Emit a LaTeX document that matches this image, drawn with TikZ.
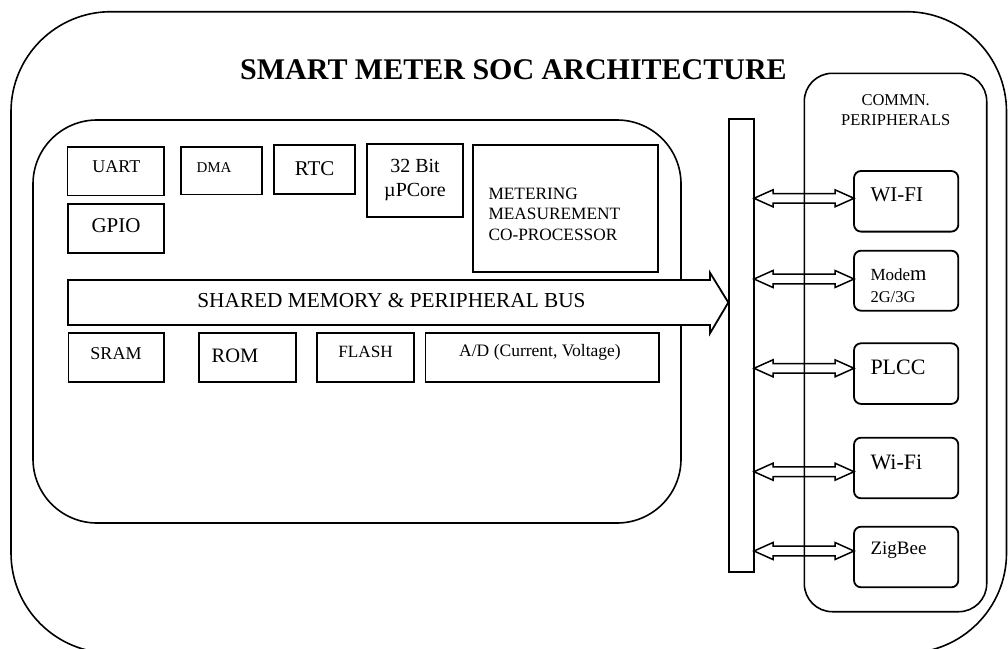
\documentclass[tikz,border=0pt]{standalone}
\usepackage{fontspec}
\setmainfont{Liberation Serif}
\usetikzlibrary{calc}
\newcommand\fsz[1]{\fontsize{#1}{#1}\selectfont}
\newcommand\bidir[2]{%
  \draw[link] let \p1=(#1), \p2=(#2) in
   (\x1,\y1) -- (\x1+19pt,\y1+8.5pt) -- (\x1+19pt,\y1+4.8pt) -- (\x2-19pt,\y1+4.8pt)
   -- (\x2-19pt,\y1+8.5pt) -- (\x2,\y1) -- (\x2-19pt,\y1-8.5pt) -- (\x2-19pt,\y1-4.8pt)
   -- (\x1+19pt,\y1-4.8pt) -- (\x1+19pt,\y1-8.5pt) -- cycle;}
\begin{document}
\begin{tikzpicture}[x=1pt,y=-1pt,
  frame/.style={draw, line width=1.6pt},
  box/.style={draw, line width=1.8pt, inner sep=0pt, outer sep=0pt, anchor=north west},
  cbox/.style={box, rounded corners=7pt, minimum width=104.3pt, minimum height=60.6pt},
  link/.style={draw, line width=1.5pt, line join=miter, fill=none},
  lbl/.style={anchor=base, inner sep=0pt},
  lbw/.style={anchor=base west, inner sep=0pt}]
\useasboundingbox (0,0) rectangle (1008,648);

% frames
\draw[frame, rounded corners=100pt] (11,11.7) rectangle (1006.5,653);
\draw[frame, rounded corners=64pt] (33,120) rectangle (681,523);
\draw[frame, rounded corners=28pt] (804.3,73.3) rectangle (986.7,611.7);

% title
\node[lbl, font=\bfseries\fsz{30}] (title) at (513.5,79) {SMART METER SOC ARCHITECTURE};

% SoC blocks
\node[box, minimum width=96.5pt, minimum height=48.8pt] (uart) at (67.5,146.7) {};
\node[box, minimum width=81pt, minimum height=47.8pt] (dma) at (180.7,146.7) {};
\node[box, minimum width=81pt, minimum height=48.7pt] (rtc) at (274,145.3) {};
\node[box, minimum width=96pt, minimum height=72.4pt] (core) at (367.3,144.3) {};
\node[box, minimum width=185pt, minimum height=127.3pt] (meter) at (473.3,145) {};
\node[box, minimum width=96pt, minimum height=49pt] (gpio) at (68,204) {};
\node[box, minimum width=95.5pt, minimum height=49pt] (sram) at (68.5,333) {};
\node[box, minimum width=96.8pt, minimum height=49pt] (rom) at (198.8,333) {};
\node[box, minimum width=97pt, minimum height=49pt] (flash) at (317,333) {};
\node[box, minimum width=233.1pt, minimum height=49pt] (adc) at (425.5,333) {};

\node[lbl, font=\fsz{18}] (tuart) at (116.3,172.5) {UART};
\node[lbl, font=\fsz{15}] (tdma) at (214,172.3) {DMA};
\node[lbl, font=\fsz{21}] (trtc) at (314.7,175) {RTC};
\node[lbl, font=\fsz{20}] (tcore1) at (415,172.3) {32 Bit};
\node[lbl, font=\fsz{20}] (tcore2) at (415,196.5) {µPCore};
\node[lbl, font=\fsz{21}] (tgpio) at (116,232) {GPIO};
\node[lbw, font=\fsz{17.3}] (tmet1) at (488.3,199.3) {METERING};
\node[lbw, font=\fsz{17.3}] (tmet2) at (488.3,219.5) {MEASUREMENT};
\node[lbw, font=\fsz{17.3}] (tmet3) at (488.3,240) {CO-PROCESSOR};
\node[lbl, font=\fsz{18}] (tsram) at (116,359.3) {SRAM};
\node[lbl, font=\fsz{20.5}] (trom) at (235,362.7) {ROM};
\node[lbl, font=\fsz{17.2}] (tflash) at (365.5,357.7) {FLASH};
\node[lbl, font=\fsz{17.5}] (tadc) at (540,356.5) {A/D (Current, Voltage)};

% shared bus arrow
\filldraw[fill=white, draw=black, line width=1.8pt, line join=miter]
  (68,280) -- (710,280) -- (710,272.7) -- (728.3,302.5) -- (710,333.3) -- (710,325) -- (68,325) -- cycle;
\node[lbl, font=\fsz{21.3}] (bus) at (391.5,307.3) {SHARED MEMORY \& PERIPHERAL BUS};

% vertical bar
\node[box, fill=white, minimum width=24.7pt, minimum height=452.4pt] (bar) at (729.3,119.3) {};

% communication peripherals
\node[lbl, font=\fsz{16.5}] (tcomm1) at (895.7,105.5) {COMMN.};
\node[lbl, font=\fsz{16.5}] (tcomm2) at (895.7,125.7) {PERIPHERALS};

\node[cbox] (wifi1) at (854,171) {};
\node[cbox, minimum height=60pt] (modem) at (854,250.7) {};
\node[cbox] (plcc) at (854,343.3) {};
\node[cbox] (wifi2) at (854,437.7) {};
\node[cbox] (zigbee) at (854,526.7) {};

\node[lbw, font=\fsz{21}] (twifi1) at (870.3,201.7) {WI-FI};
\node[lbw] (tmodem) at (870.3,280.7) {{\fsz{17}Mode}{\fsz{21}m}};
\node[lbw, font=\fsz{16.5}] (t2g) at (870.3,302.3) {2G/3G};
\node[lbw, font=\fsz{22}] (tplcc) at (870.3,374.3) {PLCC};
\node[lbw, font=\fsz{22}] (twifi2) at (870.3,469) {Wi-Fi};
\node[lbw, font=\fsz{19}] (tzig) at (870.3,554) {ZigBee};

\coordinate (p1) at (854,198.3);
\coordinate (p2) at (854,279);
\coordinate (p3) at (854,368.3);
\coordinate (p4) at (854,471.7);
\coordinate (p5) at (854,551);

\bidir{bar.east |- p1}{p1}
\bidir{bar.east |- p2}{p2}
\bidir{bar.east |- p3}{p3}
\bidir{bar.east |- p4}{p4}
\bidir{bar.east |- p5}{p5}
\end{tikzpicture}
\end{document}
